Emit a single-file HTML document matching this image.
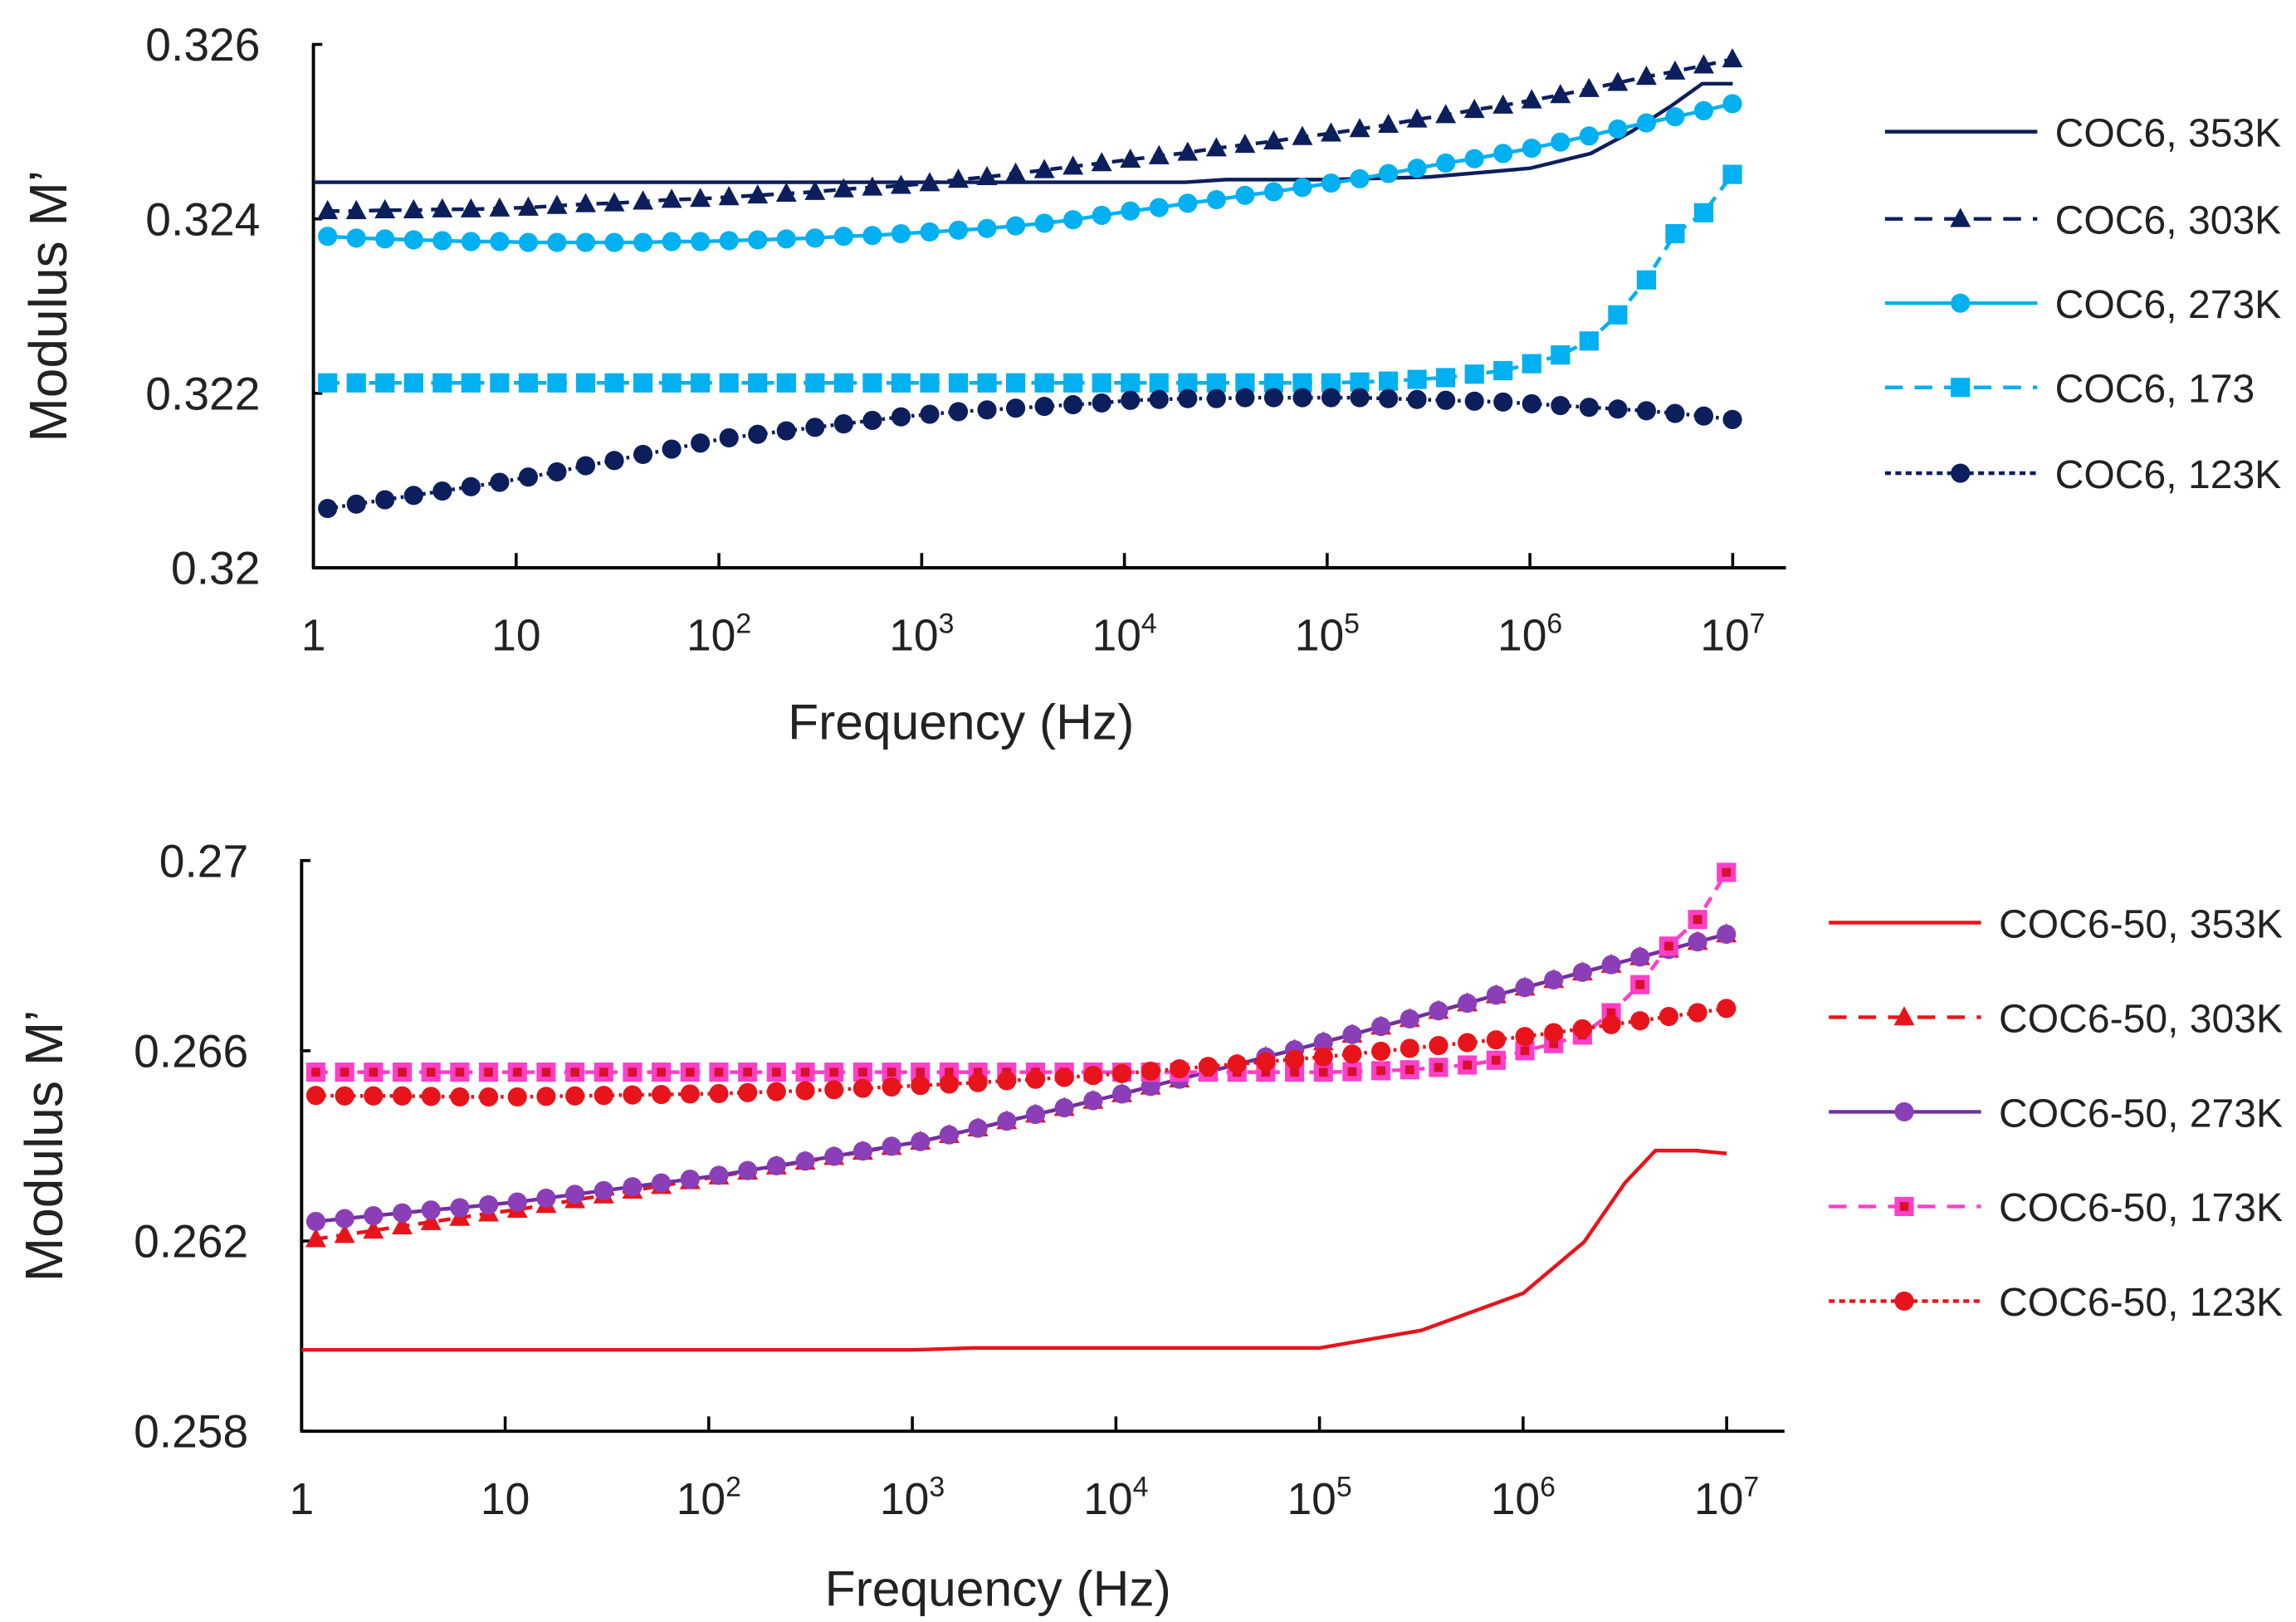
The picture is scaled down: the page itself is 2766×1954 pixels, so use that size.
<!DOCTYPE html>
<html><head><meta charset="utf-8"><style>
html,body{margin:0;padding:0;background:#fff;}
svg{display:block;font-family:"Liberation Sans",sans-serif;}
</style></head><body>
<svg id="chart" width="2766" height="1954" viewBox="0 0 1553 1097" xmlns="http://www.w3.org/2000/svg">
<rect width="1553" height="1097" fill="#fff"/>
<g id="top"></g>
<g id="bot"></g>
</svg>
<script>
// ---- shared frequency grid (log10 Hz) ----
const markerLogF = [];
for (let i = 0; i < 50; i++) markerLogF.push(0.07 + i * 0.1414);

// ---- Top chart data (COC6) ----
const topTicksY = [0.32, 0.322, 0.324, 0.326];
const topTickLabelsY = ["0.32", "0.322", "0.324", "0.326"];
const line353LogF = [0, 4.3, 4.5, 5, 5.5, 6, 6.3, 6.5, 6.7, 6.85, 7];
const coc6_353 = [0.32442,0.32442,0.32445,0.32445,0.32448,0.32458,0.32475,0.32500,0.32530,0.32555,0.32555];
const coc6_303 = [0.32409,0.32409,0.32410,0.32410,0.32411,0.32411,0.32412,0.32413,0.32415,0.32417,0.32418,0.32420,0.32422,0.32423,0.32425,0.32427,0.32429,0.32431,0.32434,0.32436,0.32438,0.32441,0.32445,0.32448,0.32452,0.32456,0.32460,0.32464,0.32468,0.32472,0.32476,0.32481,0.32485,0.32489,0.32494,0.32498,0.32503,0.32508,0.32514,0.32519,0.32525,0.32530,0.32536,0.32542,0.32549,0.32556,0.32563,0.32569,0.32576,0.32583];
const coc6_273 = [0.32380,0.32378,0.32377,0.32376,0.32375,0.32374,0.32374,0.32373,0.32373,0.32373,0.32373,0.32373,0.32374,0.32374,0.32375,0.32376,0.32377,0.32378,0.32380,0.32381,0.32383,0.32385,0.32387,0.32389,0.32392,0.32395,0.32399,0.32404,0.32409,0.32413,0.32418,0.32422,0.32427,0.32431,0.32436,0.32441,0.32446,0.32452,0.32458,0.32464,0.32469,0.32475,0.32481,0.32488,0.32495,0.32503,0.32510,0.32517,0.32524,0.32532];
const coc6_173 = [0.32212,0.32212,0.32212,0.32212,0.32212,0.32212,0.32212,0.32212,0.32212,0.32212,0.32212,0.32212,0.32212,0.32212,0.32212,0.32212,0.32212,0.32212,0.32212,0.32212,0.32212,0.32212,0.32212,0.32212,0.32212,0.32212,0.32212,0.32212,0.32212,0.32212,0.32212,0.32212,0.32212,0.32212,0.32212,0.32212,0.32213,0.32214,0.32216,0.32218,0.32222,0.32226,0.32234,0.32244,0.32260,0.32290,0.32330,0.32383,0.32407,0.32451];
const coc6_123 = [0.32068,0.32073,0.32078,0.32083,0.32088,0.32093,0.32098,0.32104,0.32110,0.32117,0.32123,0.32130,0.32136,0.32143,0.32149,0.32153,0.32157,0.32161,0.32165,0.32169,0.32173,0.32176,0.32179,0.32181,0.32183,0.32185,0.32187,0.32189,0.32192,0.32193,0.32194,0.32194,0.32195,0.32195,0.32195,0.32195,0.32195,0.32194,0.32193,0.32192,0.32191,0.32190,0.32188,0.32186,0.32184,0.32182,0.32180,0.32177,0.32174,0.32170];

// ---- Bottom chart data (COC6-50) ----
const botTicksY = [0.258, 0.262, 0.266, 0.27];
const botTickLabelsY = ["0.258", "0.262", "0.266", "0.27"];
const line50LogF = [0, 3, 3.3, 5, 5.5, 6, 6.3, 6.5, 6.65, 6.85, 7];
const c50_353 = [0.25971,0.25971,0.25975,0.25975,0.26012,0.26090,0.26198,0.26322,0.26390,0.26390,0.26384];
const c50_303 = [0.26204,0.26213,0.26222,0.26231,0.26240,0.26249,0.26258,0.26266,0.26276,0.26286,0.26296,0.26306,0.26316,0.26326,0.26336,0.26346,0.26357,0.26367,0.26377,0.26388,0.26398,0.26409,0.26423,0.26437,0.26452,0.26466,0.26480,0.26495,0.26509,0.26525,0.26540,0.26556,0.26571,0.26587,0.26602,0.26618,0.26634,0.26651,0.26667,0.26684,0.26700,0.26717,0.26733,0.26749,0.26765,0.26781,0.26797,0.26813,0.26829,0.26845];
const c50_273 = [0.26241,0.26247,0.26253,0.26259,0.26265,0.26270,0.26276,0.26282,0.26290,0.26298,0.26306,0.26314,0.26322,0.26330,0.26338,0.26348,0.26358,0.26368,0.26378,0.26389,0.26399,0.26409,0.26423,0.26437,0.26452,0.26466,0.26480,0.26495,0.26509,0.26525,0.26540,0.26556,0.26571,0.26587,0.26602,0.26618,0.26634,0.26651,0.26667,0.26684,0.26700,0.26717,0.26733,0.26749,0.26765,0.26781,0.26797,0.26813,0.26829,0.26845];
const c50_173 = [0.26555,0.26555,0.26555,0.26555,0.26555,0.26555,0.26555,0.26555,0.26555,0.26555,0.26555,0.26555,0.26555,0.26555,0.26555,0.26555,0.26555,0.26555,0.26555,0.26555,0.26555,0.26555,0.26555,0.26555,0.26555,0.26555,0.26555,0.26555,0.26555,0.26555,0.26555,0.26555,0.26555,0.26555,0.26555,0.26555,0.26556,0.26558,0.26560,0.26565,0.26570,0.26580,0.26600,0.26615,0.26633,0.26680,0.26739,0.26820,0.26876,0.26975];
const c50_123 = [0.26506,0.26505,0.26505,0.26505,0.26504,0.26503,0.26503,0.26503,0.26504,0.26505,0.26506,0.26507,0.26508,0.26509,0.26510,0.26512,0.26514,0.26516,0.26518,0.26521,0.26524,0.26527,0.26530,0.26533,0.26537,0.26540,0.26544,0.26548,0.26552,0.26557,0.26562,0.26567,0.26572,0.26577,0.26582,0.26587,0.26593,0.26599,0.26605,0.26611,0.26617,0.26623,0.26630,0.26638,0.26646,0.26655,0.26663,0.26672,0.26680,0.26689];

const xTickExp = [0,1,2,3,4,5,6,7];
const NS = "http://www.w3.org/2000/svg";
function el(tag, attrs, parent){const e=document.createElementNS(NS,tag);for(const k in attrs)e.setAttribute(k,attrs[k]);parent.appendChild(e);return e;}

const NAVY="#0c1f5c", SKY="#00b0f0", RED="#e8141b", PURPLE="#7030a0", PINK="#ff3fc8";

function marker(g, shape, x, y, fill, inner){
  let m;
  if(shape==="circle") m=el("circle",{cx:x,cy:y,r:6.5,fill:fill},g);
  else if(shape==="tri") m=el("polygon",{points:`${x},${y-7.5} ${x+7},${y+5.5} ${x-7},${y+5.5}`,fill:fill},g);
  else { m=el("rect",{x:x-6.5,y:y-6.5,width:13,height:13,fill:fill},g);
    if(inner){const n=el("rect",{x:x-3,y:y-3,width:6,height:6,fill:inner},g);
      
      }
  }
  
  
}

function drawChart(g, cfg){
  const xs = lf => cfg.x0 + lf*cfg.dec;
  const ys = v => cfg.yTop + (cfg.yMax - v)/(cfg.yMax-cfg.yMin)*(cfg.yBot-cfg.yTop);
  // axes
  const ya=el("line",{x1:cfg.x0,y1:cfg.yTop,x2:cfg.x0,y2:cfg.yBot,stroke:"#000","stroke-width":2.2},g);
  
  
  const xa=el("line",{x1:cfg.x0,y1:cfg.yBot,x2:cfg.xEnd,y2:cfg.yBot,stroke:"#000","stroke-width":2.2},g);
  
  
  cfg.ticksY.forEach((v,i)=>{
    const y=ys(v);
    el("line",{x1:cfg.x0-1,y1:y,x2:cfg.x0+6,y2:y,stroke:"#000","stroke-width":2},g);
    const t=el("text",{x:cfg.x0-36,y:y+11,"text-anchor":"end","font-size":31,fill:"#222"},g);
    t.textContent=cfg.labelsY[i];
    
    
  });
  xTickExp.forEach(e=>{
    const x=xs(e);
    if(e>0) el("line",{x1:x,y1:cfg.yBot,x2:x,y2:cfg.yBot-10,stroke:"#000","stroke-width":2},g);
    const t=el("text",{x:x,y:cfg.yBot+56,"text-anchor":"middle","font-size":30,fill:"#222"},g);
    if(e===0) t.textContent="1"; else if(e===1) t.textContent="10";
    else { t.textContent="10"; const s=el("tspan",{dy:-12,"font-size":19},t); s.textContent=String(e); }
    
    
  });
  const yt=el("text",{x:0,y:0,"text-anchor":"middle","font-size":36,fill:"#222",transform:`translate(${cfg.yTitleX},${(cfg.yTop+cfg.yBot)/2}) rotate(-90)`},g);
  yt.textContent="Modulus M\u2019";
  
  
  const xt=el("text",{x:cfg.xTitleX,y:cfg.xTitleY,"text-anchor":"middle","font-size":34,fill:"#222"},g);
  xt.textContent="Frequency (Hz)";
  
  
  // series
  cfg.series.forEach((s,si)=>{
    const sg=el("g",{},g);
    
    
    const lfs=s.logf||markerLogF;
    const pts=s.vals.map((v,i)=>`${xs(lfs[i]).toFixed(2)},${ys(v).toFixed(2)}`).join(" ");
    const pl=el("polyline",{points:pts,fill:"none",stroke:s.color,"stroke-width":2.5},sg);
    if(s.dash) pl.setAttribute("stroke-dasharray",s.dash);
    
    
    if(s.shape) s.vals.forEach((v,i)=>marker(sg,s.shape,xs(lfs[i]),ys(v),s.mcolor||s.color,s.inner));
    // legend
    const ly=cfg.legY[si];
    const lg=el("g",{},g);
    
    
    const ll=el("line",{x1:cfg.legX,y1:ly,x2:cfg.legX+103,y2:ly,stroke:s.color,"stroke-width":2.5},lg);
    if(s.dash) ll.setAttribute("stroke-dasharray",s.dash==="2,3"?"4,3":"12,8");
    if(s.shape) marker(lg,s.shape,cfg.legX+51,ly,s.mcolor||s.color,s.inner);
    const lt=el("text",{x:cfg.legX+115,y:ly+10,"font-size":27,fill:"#222"},lg);
    lt.textContent=s.label;
  });
}

drawChart(document.getElementById("top"),{
  x0:212,dec:137.14,xEnd:1208,yTop:30,yBot:384,yMin:0.32,yMax:0.326,
  ticksY:topTicksY,labelsY:topTickLabelsY,yTitleX:45,xTitleX:650,xTitleY:500,
  legX:1275,legY:[89,148,205,262,320],
  series:[
    {key:"coc6-353k",label:"COC6, 353K",vals:coc6_353,logf:line353LogF,color:NAVY},
    {key:"coc6-303k",label:"COC6, 303K",vals:coc6_303,color:NAVY,dash:"8,6",shape:"tri"},
    {key:"coc6-273k",label:"COC6, 273K",vals:coc6_273,color:SKY,shape:"circle"},
    {key:"coc6-173",label:"COC6, 173",vals:coc6_173,color:SKY,dash:"8,6",shape:"sq"},
    {key:"coc6-123k",label:"COC6, 123K",vals:coc6_123,color:NAVY,dash:"2,3",shape:"circle"}
  ]});

drawChart(document.getElementById("bot"),{
  x0:204,dec:137.7,xEnd:1207,yTop:582,yBot:968,yMin:0.258,yMax:0.27,
  ticksY:botTicksY,labelsY:botTickLabelsY,yTitleX:42,xTitleX:675,xTitleY:1086,
  legX:1237,legY:[624,688,752,816,880],
  series:[
    {key:"coc6-50-353k",label:"COC6-50, 353K",vals:c50_353,logf:line50LogF,color:RED},
    {key:"coc6-50-303k",label:"COC6-50, 303K",vals:c50_303,color:RED,dash:"8,6",shape:"tri"},
    {key:"coc6-50-273k",label:"COC6-50, 273K",vals:c50_273,color:PURPLE,shape:"circle",mcolor:"#8a3fb8"},
    {key:"coc6-50-173k",label:"COC6-50, 173K",vals:c50_173,color:PINK,dash:"8,6",shape:"sq",inner:"#d8102a"},
    {key:"coc6-50-123k",label:"COC6-50, 123K",vals:c50_123,color:RED,dash:"2,3",shape:"circle"}
  ]});
</script>
</body></html>
